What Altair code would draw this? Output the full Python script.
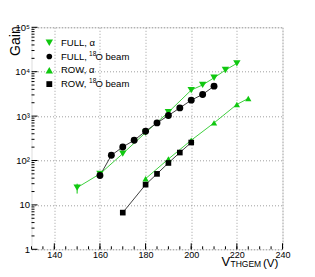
import altair as alt
import pandas as pd

series_names = ["FULL, α", "FULL, ¹⁸O beam", "ROW, α", "ROW, ¹⁸O beam"]

full_a_v = [150, 160, 170, 180, 190, 200, 205, 210, 215, 220]
full_a_g = [24.5, 50, 143, 425, 1225, 3850, 5040, 7280, 10900, 15400]

full_b_v = [160, 165, 170, 175, 180, 185, 190, 195, 200, 205, 210]
full_b_g = [46, 131, 202, 286, 456, 703, 1030, 1530, 2285, 3075, 4730]

row_a_v = [180, 190, 200, 210, 220, 225]
row_a_g = [39, 108, 286, 703, 1828, 2496]

row_b_v = [170, 180, 185, 190, 195, 200]
row_b_g = [6.7, 28.6, 50, 88, 151, 254]

err_v = [150]
err_lo = [18]
err_hi = [30]

x_major = [140, 160, 180, 200, 220, 240]
x_minor = list(range(130, 241, 5))
y_major = [1, 10, 100, 1000, 10000, 100000]
y_minor = [m * 10 ** e for e in range(0, 5) for m in range(2, 10)]

# legend text pieces: (prefix, superscript, suffix)
legend_parts = [("FULL, α", "", ""), ("FULL, ", "18", "O beam"),
                ("ROW, α", "", ""), ("ROW, ", "18", "O beam")]

rows = []
for name, vs, gs in zip(series_names,
                        [full_a_v, full_b_v, row_a_v, row_b_v],
                        [full_a_g, full_b_g, row_a_g, row_b_g]):
    for i, (v, g) in enumerate(zip(vs, gs)):
        rows.append({"series": name, "V": v, "gain": g, "order": i})
df = pd.DataFrame(rows)

W, H = 251, 222
FONT = "Liberation Sans"

xs = alt.Scale(domain=[130, 240], nice=False, zero=False)
ys = alt.Scale(type="log", domain=[1, 100000], nice=False)

marker_colors = ["#10c810", "#000000", "#10c810", "#000000"]
line_colors = ["#40d040", "#404040", "#40d040", "#404040"]
shapes = ["triangle-down", "circle", "triangle-up", "square"]
sizes = [55, 32, 55, 34]

xaxis = alt.Axis(values=x_major, ticks=False, domain=False, grid=True,
                 gridDash=[1, 2], gridColor="#888888", gridWidth=0.8,
                 labelFont=FONT, labelFontSize=9, labelColor="#000",
                 labelPadding=1.5, title=None, labelFlush=False)
ylabel_expr = ("datum.value == 1 ? '1' : datum.value == 10 ? '10' : "
               "datum.value == 100 ? '10²' : datum.value == 1000 ? '10³' : "
               "datum.value == 10000 ? '10⁴' : '10⁵'")
yaxis = alt.Axis(values=y_major, ticks=False, domain=False, grid=True,
                 gridDash=[1, 2], gridColor="#888888", gridWidth=0.8,
                 labelFont=FONT, labelFontSize=9.5, labelColor="#000",
                 labelPadding=2, title=None, labelExpr=ylabel_expr,
                 labelFlush=False)

base = alt.Chart(df)

lines = base.mark_line(strokeWidth=1).encode(
    x=alt.X("V:Q", scale=xs, axis=xaxis),
    y=alt.Y("gain:Q", scale=ys, axis=yaxis),
    stroke=alt.Stroke("series:N", scale=alt.Scale(domain=series_names, range=line_colors), legend=None),
    detail="series:N",
    order="order:Q",
)

points = base.mark_point(filled=True, opacity=1, strokeWidth=0).encode(
    x=alt.X("V:Q", scale=xs),
    y=alt.Y("gain:Q", scale=ys),
    fill=alt.Fill("series:N", scale=alt.Scale(domain=series_names, range=marker_colors), legend=None),
    shape=alt.Shape("series:N", scale=alt.Scale(domain=series_names, range=shapes), legend=None),
    size=alt.Size("series:N", scale=alt.Scale(domain=series_names, range=sizes), legend=None),
)

err_df = pd.DataFrame({"V": err_v, "lo": err_lo, "hi": err_hi})
err = alt.Chart(err_df).mark_rule(color="#10c810", strokeWidth=1).encode(
    x=alt.X("V:Q", scale=xs), y=alt.Y("lo:Q", scale=ys), y2="hi:Q")

xmaj = alt.Chart(pd.DataFrame({"t": x_major})).mark_rule(color="black", strokeWidth=1).encode(
    x=alt.X("t:Q", scale=xs), y=alt.value(H), y2=alt.value(H - 6))
xmin = alt.Chart(pd.DataFrame({"t": x_minor})).mark_rule(color="black", strokeWidth=1).encode(
    x=alt.X("t:Q", scale=xs), y=alt.value(H), y2=alt.value(H - 3))
ymaj = alt.Chart(pd.DataFrame({"t": y_major})).mark_rule(color="black", strokeWidth=1).encode(
    y=alt.Y("t:Q", scale=ys), x=alt.value(0), x2=alt.value(6))
ymin = alt.Chart(pd.DataFrame({"t": y_minor})).mark_rule(color="black", strokeWidth=1).encode(
    y=alt.Y("t:Q", scale=ys), x=alt.value(0), x2=alt.value(3))


def text_layer(txt, x, y, size, align="left", baseline="middle", angle=None):
    kw = dict(align=align, baseline=baseline, font=FONT, fontSize=size, color="black")
    if angle is not None:
        kw["angle"] = angle
    return alt.Chart(pd.DataFrame({"t": [txt]})).mark_text(**kw).encode(
        text="t:N", x=alt.value(x), y=alt.value(y))


# manual legend (top-left, inside the frame)
legend_layers = []
for i, (name, col, shp, sz, parts) in enumerate(
        zip(series_names, marker_colors, shapes, sizes, legend_parts)):
    ly = 15.4 + i * 13.8
    legend_layers.append(alt.Chart(pd.DataFrame({"s": [name]})).mark_point(
        filled=True, opacity=1, strokeWidth=0, color=col, shape=shp, size=sz
    ).encode(x=alt.value(17.8), y=alt.value(ly)))
    pre, sup, suf = parts
    legend_layers.append(text_layer(pre, 29.5, ly, 9.5))
    if sup:
        legend_layers.append(text_layer(sup, 57.6, ly - 3, 6.5))
        legend_layers.append(text_layer(suf, 64.0, ly, 9.5))

gain_title = text_layer("Gain", -12, -1, 14, align="right", baseline="alphabetic", angle=270)
v_title = text_layer("V", 190, 238.8, 13, baseline="alphabetic")
sub_title = text_layer("THGEM", 199, 239.6, 8.5, baseline="alphabetic")
unit_title = text_layer("(V)", 231.5, 239.2, 11.5, baseline="alphabetic")

chart = alt.layer(
    lines, err, points, xmaj, xmin, ymaj, ymin, *legend_layers,
    gain_title, v_title, sub_title, unit_title
).properties(
    width=W, height=H,
    autosize=alt.AutoSizeParams(type="none"),
    padding={"left": 23.5, "top": 19.3, "right": 24, "bottom": 19.7},
).configure_view(stroke="black", strokeWidth=1).configure(background="white")

chart.save("out.html", embed_options={"renderer": "svg", "actions": False})
